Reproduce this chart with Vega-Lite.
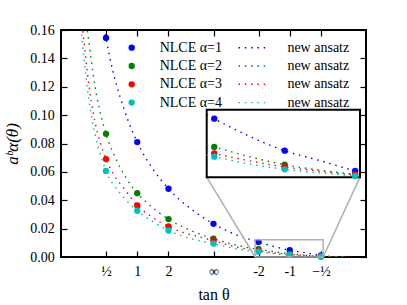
{
 "$schema": "https://vega.github.io/schema/vega-lite/v6.json",
 "width": 305, "height": 227,
 "autosize": {"type": "none"},
 "padding": {"left": 61, "top": 30, "right": 41, "bottom": 48},
 "config": {
  "font": "Liberation Serif, DejaVu Serif, serif",
  "view": {"stroke": "black", "strokeWidth": 2},
  "axis": {"grid": false, "domain": false, "tickColor": "black", "tickSize": -6, "tickWidth": 1.2, "labelFont": "Liberation Serif, DejaVu Serif, serif", "labelFontSize": 14, "labelColor": "black", "labelFlush": false, "titleFont": "Liberation Serif, DejaVu Serif, serif", "titleColor": "black", "titleFontWeight": "normal"},
  "legend": {"labelFont": "Liberation Serif, DejaVu Serif, serif", "labelFontSize": 14, "labelColor": "black", "padding": 0}
 },
 "datasets": {
  "pts": [
   {"t": 0.4636, "v": 0.1544, "s": "NLCE α=1"}, {"t": 0.7854, "v": 0.0810, "s": "NLCE α=1"}, {"t": 1.1071, "v": 0.0481, "s": "NLCE α=1"}, {"t": 1.5708, "v": 0.0234, "s": "NLCE α=1"}, {"t": 2.0344, "v": 0.01058, "s": "NLCE α=1"}, {"t": 2.3562, "v": 0.0048, "s": "NLCE α=1"}, {"t": 2.6779, "v": 0.00114, "s": "NLCE α=1"},
   {"t": 0.4636, "v": 0.0868, "s": "NLCE α=2"}, {"t": 0.7854, "v": 0.0450, "s": "NLCE α=2"}, {"t": 1.1071, "v": 0.0267, "s": "NLCE α=2"}, {"t": 1.5708, "v": 0.0129, "s": "NLCE α=2"}, {"t": 2.0344, "v": 0.00547, "s": "NLCE α=2"}, {"t": 2.3562, "v": 0.00227, "s": "NLCE α=2"}, {"t": 2.6779, "v": 0.00054, "s": "NLCE α=2"},
   {"t": 0.4636, "v": 0.0690, "s": "NLCE α=3"}, {"t": 0.7854, "v": 0.0363, "s": "NLCE α=3"}, {"t": 1.1071, "v": 0.0215, "s": "NLCE α=3"}, {"t": 1.5708, "v": 0.0115, "s": "NLCE α=3"}, {"t": 2.0344, "v": 0.00433, "s": "NLCE α=3"}, {"t": 2.3562, "v": 0.00186, "s": "NLCE α=3"}, {"t": 2.6779, "v": 0.00045, "s": "NLCE α=3"},
   {"t": 0.4636, "v": 0.0607, "s": "NLCE α=4"}, {"t": 0.7854, "v": 0.0326, "s": "NLCE α=4"}, {"t": 1.1071, "v": 0.0187, "s": "NLCE α=4"}, {"t": 1.5708, "v": 0.0094, "s": "NLCE α=4"}, {"t": 2.0344, "v": 0.00372, "s": "NLCE α=4"}, {"t": 2.3562, "v": 0.00144, "s": "NLCE α=4"}, {"t": 2.6779, "v": 0.00023, "s": "NLCE α=4"}
  ],
  "cur": [
   {"t": 0.445, "v": 0.1615, "c": "a1"}, {"t": 0.4636, "v": 0.1544, "c": "a1"}, {"t": 0.5326, "v": 0.1314, "c": "a1"}, {"t": 0.6077, "v": 0.1131, "c": "a1"}, {"t": 0.6933, "v": 0.0957, "c": "a1"}, {"t": 0.7854, "v": 0.081, "c": "a1"}, {"t": 0.8344, "v": 0.0743, "c": "a1"}, {"t": 0.9446, "v": 0.0622, "c": "a1"}, {"t": 1.1071, "v": 0.0481, "c": "a1"}, {"t": 1.363, "v": 0.0326, "c": "a1"}, {"t": 1.5708, "v": 0.0234, "c": "a1"}, {"t": 1.775, "v": 0.0165, "c": "a1"}, {"t": 2.0, "v": 0.0113, "c": "a1"}, {"t": 2.0344, "v": 0.01058, "c": "a1"}, {"t": 2.185, "v": 0.00758, "c": "a1"}, {"t": 2.3562, "v": 0.0048, "c": "a1"}, {"t": 2.528, "v": 0.00289, "c": "a1"}, {"t": 2.6779, "v": 0.00114, "c": "a1"}, {"t": 2.7, "v": 0.0009, "c": "a1"}, {"t": 2.85, "v": 0.0002, "c": "a1"}, {"t": 2.95, "v": 0.0, "c": "a1"},
   {"t": 0.255, "v": 0.168, "c": "a2"}, {"t": 0.271, "v": 0.16, "c": "a2"}, {"t": 0.35, "v": 0.1204, "c": "a2"}, {"t": 0.4357, "v": 0.0935, "c": "a2"}, {"t": 0.4636, "v": 0.0868, "c": "a2"}, {"t": 0.5738, "v": 0.068, "c": "a2"}, {"t": 0.6726, "v": 0.0556, "c": "a2"}, {"t": 0.7854, "v": 0.045, "c": "a2"}, {"t": 0.889, "v": 0.038, "c": "a2"}, {"t": 1.1071, "v": 0.0267, "c": "a2"}, {"t": 1.2258, "v": 0.0222, "c": "a2"}, {"t": 1.449, "v": 0.0157, "c": "a2"}, {"t": 1.5708, "v": 0.0129, "c": "a2"}, {"t": 1.81, "v": 0.0083, "c": "a2"}, {"t": 2.0, "v": 0.0058, "c": "a2"}, {"t": 2.0344, "v": 0.00547, "c": "a2"}, {"t": 2.17, "v": 0.00397, "c": "a2"}, {"t": 2.3562, "v": 0.00227, "c": "a2"}, {"t": 2.52, "v": 0.00127, "c": "a2"}, {"t": 2.6779, "v": 0.00054, "c": "a2"}, {"t": 2.7, "v": 0.00045, "c": "a2"}, {"t": 2.85, "v": 0.0001, "c": "a2"}, {"t": 2.95, "v": 0.0, "c": "a2"},
   {"t": 0.21, "v": 0.168, "c": "a3"}, {"t": 0.2235, "v": 0.16, "c": "a3"}, {"t": 0.2915, "v": 0.119, "c": "a3"}, {"t": 0.374, "v": 0.088, "c": "a3"}, {"t": 0.4017, "v": 0.0812, "c": "a3"}, {"t": 0.4636, "v": 0.069, "c": "a3"}, {"t": 0.539, "v": 0.0585, "c": "a3"}, {"t": 0.659, "v": 0.0474, "c": "a3"}, {"t": 0.7854, "v": 0.0363, "c": "a3"}, {"t": 0.899, "v": 0.03, "c": "a3"}, {"t": 1.1071, "v": 0.0215, "c": "a3"}, {"t": 1.26, "v": 0.0172, "c": "a3"}, {"t": 1.42, "v": 0.0143, "c": "a3"}, {"t": 1.5708, "v": 0.0115, "c": "a3"}, {"t": 1.81, "v": 0.007, "c": "a3"}, {"t": 2.0, "v": 0.0047, "c": "a3"}, {"t": 2.0344, "v": 0.00433, "c": "a3"}, {"t": 2.18, "v": 0.0031, "c": "a3"}, {"t": 2.3562, "v": 0.00186, "c": "a3"}, {"t": 2.52, "v": 0.0011, "c": "a3"}, {"t": 2.6779, "v": 0.00045, "c": "a3"}, {"t": 2.7, "v": 0.0004, "c": "a3"}, {"t": 2.85, "v": 0.0001, "c": "a3"}, {"t": 2.95, "v": 0.0, "c": "a3"},
   {"t": 0.195, "v": 0.17, "c": "a4"}, {"t": 0.209, "v": 0.16, "c": "a4"}, {"t": 0.271, "v": 0.119, "c": "a4"}, {"t": 0.35, "v": 0.0866, "c": "a4"}, {"t": 0.4, "v": 0.0735, "c": "a4"}, {"t": 0.4636, "v": 0.0607, "c": "a4"}, {"t": 0.608, "v": 0.045, "c": "a4"}, {"t": 0.693, "v": 0.0385, "c": "a4"}, {"t": 0.7854, "v": 0.0326, "c": "a4"}, {"t": 0.95, "v": 0.0248, "c": "a4"}, {"t": 1.1071, "v": 0.0187, "c": "a4"}, {"t": 1.3, "v": 0.0137, "c": "a4"}, {"t": 1.5708, "v": 0.0094, "c": "a4"}, {"t": 1.81, "v": 0.0058, "c": "a4"}, {"t": 2.0, "v": 0.004, "c": "a4"}, {"t": 2.0344, "v": 0.00372, "c": "a4"}, {"t": 2.18, "v": 0.0025, "c": "a4"}, {"t": 2.3562, "v": 0.00144, "c": "a4"}, {"t": 2.52, "v": 0.0008, "c": "a4"}, {"t": 2.6779, "v": 0.00025, "c": "a4"}, {"t": 2.7, "v": 0.0002, "c": "a4"}, {"t": 2.85, "v": 0.00005, "c": "a4"}, {"t": 2.95, "v": 0.0, "c": "a4"}
  ]
 },
 "layer": [
  {
   "data": {"name": "cur"},
   "mark": {"type": "line", "interpolate": "monotone", "strokeWidth": 1.4, "strokeDash": [1.5, 4.8], "clip": true},
   "encoding": {
    "x": {"field": "t", "type": "quantitative", "scale": {"domain": [0, 3.14159], "nice": false, "zero": false}, "axis": {"orient": "top", "values": [0.4636, 0.7854, 1.1071, 1.5708, 2.0344, 2.3562, 2.6779], "labels": false, "title": null}},
    "y": {"field": "v", "type": "quantitative", "scale": {"domain": [0, 0.16], "nice": false, "zero": false}, "axis": {"orient": "right", "values": [0, 0.02, 0.04, 0.06, 0.08, 0.1, 0.12, 0.14, 0.16], "labels": false, "title": null}},
    "stroke": {"field": "c", "type": "nominal", "scale": {"domain": ["a1", "a2", "a3", "a4"], "range": ["#0000ff", "#008000", "#ff0000", "#00bfbf"]},
     "legend": {"orient": "none", "legendX": 184.5, "legendY": 10.7, "title": null, "labelExpr": "'new ansatz'", "symbolType": "M-4,0L4,0", "symbolSize": 49, "symbolStrokeWidth": 1.4, "symbolDash": [1.5, 4.8], "labelOffset": 27.9, "rowPadding": 4.3}}
   }
  },
  {
   "data": {"name": "pts"},
   "mark": {"type": "circle", "size": 40, "opacity": 1},
   "encoding": {
    "x": {"field": "t", "type": "quantitative", "scale": {"domain": [0, 3.14159], "nice": false, "zero": false},
     "axis": {"orient": "bottom", "values": [0.4636, 0.7854, 1.1071, 1.5708, 2.0344, 2.3562, 2.6779], "labelExpr": "datum.value < 0.6 ? '½' : datum.value < 0.9 ? '1' : datum.value < 1.3 ? '2' : datum.value < 1.8 ? '∞' : datum.value < 2.2 ? '-2' : datum.value < 2.5 ? '-1' : '−½'", "labelPadding": 13, "title": "tan θ", "titleFontSize": 16, "titlePadding": 8}},
    "y": {"field": "v", "type": "quantitative", "scale": {"domain": [0, 0.16], "nice": false, "zero": false},
     "axis": {"orient": "left", "values": [0, 0.02, 0.04, 0.06, 0.08, 0.1, 0.12, 0.14, 0.16], "format": ".2f", "labelPadding": 12.7, "title": "aᵇα(θ)", "titleFontSize": 17, "titleFontStyle": "italic", "titlePadding": 8}},
    "fill": {"field": "s", "type": "nominal", "scale": {"domain": ["NLCE α=1", "NLCE α=2", "NLCE α=3", "NLCE α=4"], "range": ["#0000ff", "#008000", "#ff0000", "#00bfbf"]},
     "legend": {"orient": "none", "legendX": 63.7, "legendY": 10.7, "title": null, "symbolType": "circle", "symbolSize": 40, "symbolStrokeWidth": 0, "labelOffset": 21, "rowPadding": 4.3}}
   }
  },
  {
   "data": {"values": [{}]},
   "mark": {"type": "rect", "filled": false, "stroke": "#b0b0b0", "strokeWidth": 1.5},
   "encoding": {
    "x": {"datum": 2.0, "type": "quantitative", "scale": {"domain": [0, 3.14159], "nice": false, "zero": false}, "axis": null},
    "x2": {"datum": 2.7},
    "y": {"datum": 0, "type": "quantitative", "scale": {"domain": [0, 0.16], "nice": false, "zero": false}, "axis": null},
    "y2": {"datum": 0.0122}
   }
  },
  {
   "data": {"values": [{}]},
   "mark": {"type": "rule", "stroke": "#b0b0b0", "strokeWidth": 1.5},
   "encoding": {
    "x": {"datum": 2.0, "type": "quantitative", "scale": {"domain": [0, 3.14159], "nice": false, "zero": false}, "axis": null},
    "x2": {"datum": 1.5008},
    "y": {"datum": 0, "type": "quantitative", "scale": {"domain": [0, 0.16], "nice": false, "zero": false}, "axis": null},
    "y2": {"datum": 0.0563}
   }
  },
  {
   "data": {"values": [{}]},
   "mark": {"type": "rule", "stroke": "#b0b0b0", "strokeWidth": 1.5},
   "encoding": {
    "x": {"datum": 2.7, "type": "quantitative", "scale": {"domain": [0, 3.14159], "nice": false, "zero": false}, "axis": null},
    "x2": {"datum": 3.08},
    "y": {"datum": 0, "type": "quantitative", "scale": {"domain": [0, 0.16], "nice": false, "zero": false}, "axis": null},
    "y2": {"datum": 0.0563}
   }
  },
  {
   "data": {"values": [{}]},
   "mark": {"type": "rect", "fill": "white", "stroke": "black", "strokeWidth": 2},
   "encoding": {
    "x": {"datum": 2.0, "type": "quantitative", "scale": {"domain": [2.0, 2.7], "range": [145.7, 299], "nice": false, "zero": false}, "axis": null},
    "x2": {"datum": 2.7},
    "y": {"datum": 0, "type": "quantitative", "scale": {"domain": [0, 0.0122], "range": [147.3, 79.7], "nice": false, "zero": false}, "axis": null},
    "y2": {"datum": 0.0122}
   }
  },
  {
   "data": {"name": "cur"},
   "transform": [{"filter": "datum.t >= 2.0 && datum.t <= 2.7"}],
   "mark": {"type": "line", "interpolate": "monotone", "strokeWidth": 1.4, "strokeDash": [1.5, 4.8]},
   "encoding": {
    "x": {"field": "t", "type": "quantitative", "scale": {"domain": [2.0, 2.7], "range": [145.7, 299], "nice": false, "zero": false}, "axis": null},
    "y": {"field": "v", "type": "quantitative", "scale": {"domain": [0, 0.0122], "range": [147.3, 79.7], "nice": false, "zero": false}, "axis": null},
    "stroke": {"field": "c", "type": "nominal", "scale": {"domain": ["a1", "a2", "a3", "a4"], "range": ["#0000ff", "#008000", "#ff0000", "#00bfbf"]},
     "legend": {"orient": "none", "legendX": 184.5, "legendY": 10.7, "title": null, "labelExpr": "'new ansatz'", "symbolType": "M-4,0L4,0", "symbolSize": 49, "symbolStrokeWidth": 1.4, "symbolDash": [1.5, 4.8], "labelOffset": 27.9, "rowPadding": 4.3}}
   }
  },
  {
   "data": {"name": "pts"},
   "transform": [{"filter": "datum.t >= 2.0"}],
   "mark": {"type": "circle", "size": 40, "opacity": 1},
   "encoding": {
    "x": {"field": "t", "type": "quantitative", "scale": {"domain": [2.0, 2.7], "range": [145.7, 299], "nice": false, "zero": false}, "axis": null},
    "y": {"field": "v", "type": "quantitative", "scale": {"domain": [0, 0.0122], "range": [147.3, 79.7], "nice": false, "zero": false}, "axis": null},
    "fill": {"field": "s", "type": "nominal", "scale": {"domain": ["NLCE α=1", "NLCE α=2", "NLCE α=3", "NLCE α=4"], "range": ["#0000ff", "#008000", "#ff0000", "#00bfbf"]},
     "legend": {"orient": "none", "legendX": 63.7, "legendY": 10.7, "title": null, "symbolType": "circle", "symbolSize": 40, "symbolStrokeWidth": 0, "labelOffset": 21, "rowPadding": 4.3}}
   }
  }
 ],
 "resolve": {"scale": {"x": "independent", "y": "independent"}, "axis": {"x": "independent", "y": "independent"}}
}
